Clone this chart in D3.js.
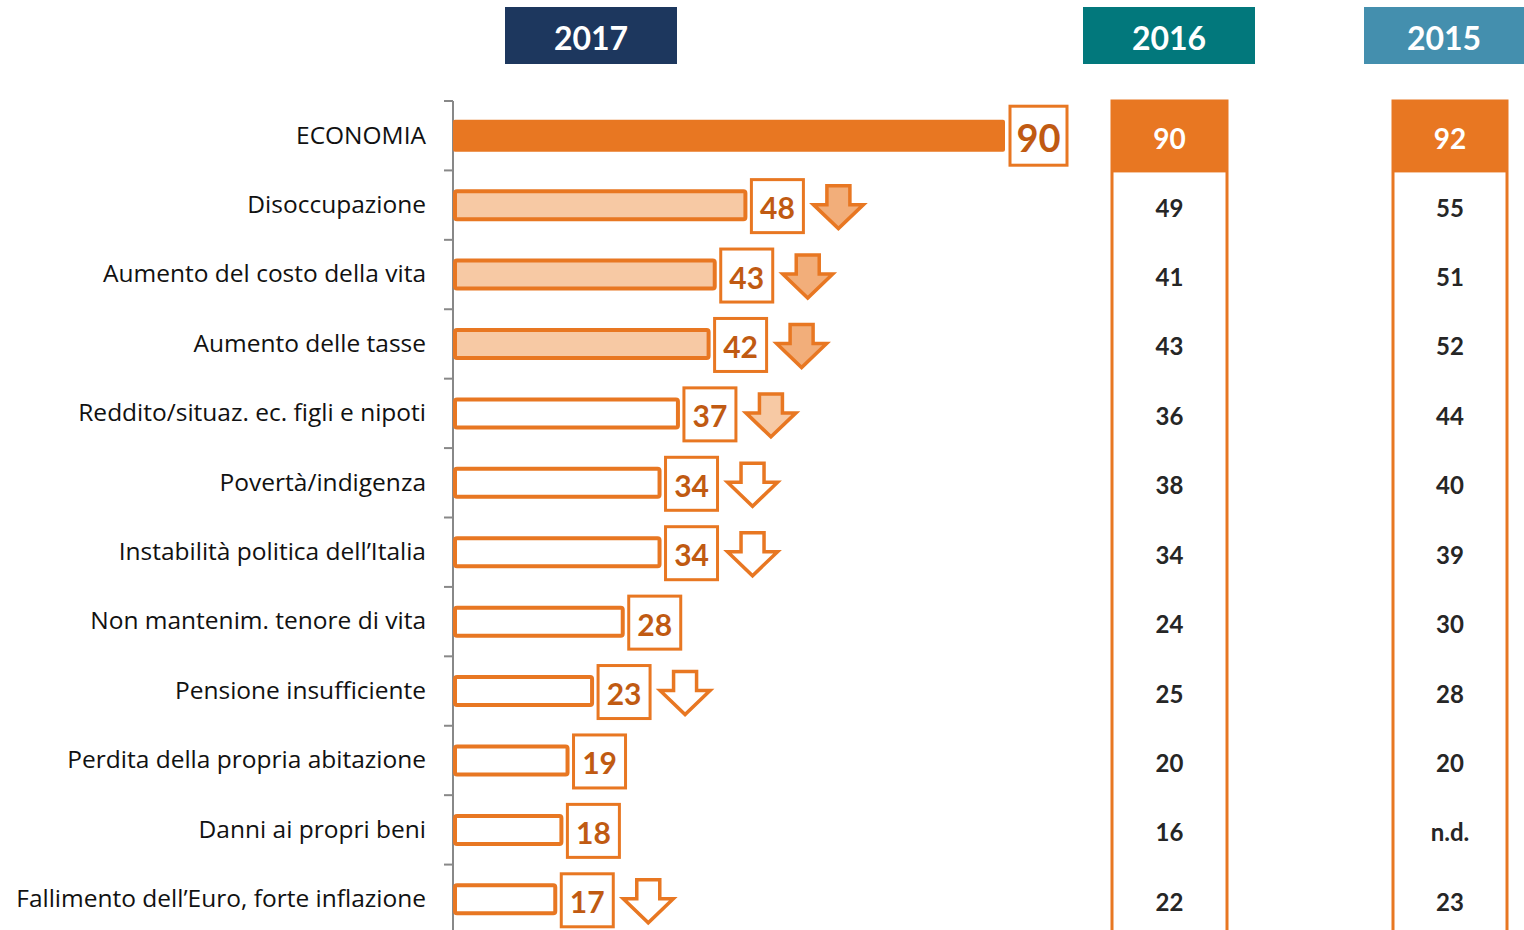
<!DOCTYPE html>
<html><head><meta charset="utf-8">
<script src="https://cdn.jsdelivr.net/npm/d3@7"></script>
<style>
html,body{margin:0;padding:0;background:#fff;overflow:hidden;}
svg{display:block;font-family:Lato,"Open Sans",sans-serif;}
</style></head>
<body>
<svg id="chart" width="1524" height="930"></svg>
<script>
const categories = ["ECONOMIA","Disoccupazione","Aumento del costo della vita","Aumento delle tasse","Reddito/situaz. ec. figli e nipoti","Povertà/indigenza","Instabilità politica dell’Italia","Non mantenim. tenore di vita","Pensione insufficiente","Perdita della propria abitazione","Danni ai propri beni","Fallimento dell’Euro, forte inflazione"];
const values2017 = [90,48,43,42,37,34,34,28,23,19,18,17];
const values2016 = ["90","49","41","43","36","38","34","24","25","20","16","22"];
const values2015 = ["92","55","51","52","44","40","39","30","28","20","n.d.","23"];
const barFill = ["full","light","light","light","none","none","none","none","none","none","none","none"];
const arrowFill = ["", "medium","medium","medium","light","none","none","","none","","","none"];
const yearLabels = ["2017","2016","2015"];

const ORANGE = "#e87722", LIGHT = "#f7c9a4", MEDIUM = "#f2ae7a", DARKTXT = "#c05a12";
const svg = d3.select("#chart");

const x = d3.scaleLinear().domain([0, 90]).range([453, 1005]);
const y = d3.scaleBand().domain(categories).range([101, 934]);
const barH = 32;

// headers
const headers = [
  {t: yearLabels[0], x0: 505, x1: 677, c: "#1d375e"},
  {t: yearLabels[1], x0: 1083, x1: 1255, c: "#02787c"},
  {t: yearLabels[2], x0: 1364, x1: 1524, c: "#448fae"}
];
headers.forEach(h => {
  svg.append("rect").attr("x", h.x0).attr("y", 7).attr("width", h.x1 - h.x0).attr("height", 57).attr("fill", h.c);
  svg.append("text").attr("x", (h.x0 + h.x1) / 2).attr("y", 37).attr("text-anchor", "middle")
    .attr("dominant-baseline", "central").attr("fill", "#fff").attr("font-weight", 700).attr("font-size", 32).text(h.t);
});

// axis
const axisG = svg.append("g").attr("transform", "translate(453,0)")
  .call(d3.axisLeft(y).tickSize(0).tickPadding(27));
axisG.select(".domain").remove();
axisG.selectAll("text").attr("font-size", 24.5).attr("fill", "#111").attr("font-family", "'Open Sans', Lato, sans-serif");
const bounds = categories.map(c => y(c)).concat([y.range()[1]]);
svg.append("line").attr("x1", 453).attr("x2", 453).attr("y1", 101).attr("y2", 934).attr("stroke", "#888").attr("stroke-width", 2);
svg.selectAll(".tk").data(bounds).join("line").attr("class", "tk")
  .attr("x1", 444).attr("x2", 453).attr("y1", d => d).attr("y2", d => d).attr("stroke", "#888").attr("stroke-width", 2);

// bars
categories.forEach((c, i) => {
  const v = values2017[i];
  const cy = y(c) + y.bandwidth() / 2;
  const g = svg.append("g");
  if (barFill[i] === "full") {
    g.append("rect").attr("x", x(0)).attr("y", cy - barH / 2).attr("width", x(v) - x(0)).attr("height", barH)
      .attr("rx", 2).attr("fill", ORANGE);
  } else {
    g.append("rect").attr("x", x(0) + 2).attr("y", cy - barH / 2 + 2).attr("width", x(v) - x(0) - 4).attr("height", barH - 4)
      .attr("rx", 2).attr("fill", barFill[i] === "light" ? LIGHT : "#fff").attr("stroke", ORANGE).attr("stroke-width", 4);
  }
  // value box
  const big = i === 0;
  const bw = big ? 57 : 52, bh = big ? 59 : 53;
  const bx = x(v) + (big ? 5 : 4);
  g.append("rect").attr("x", bx).attr("y", cy - bh / 2 + (big ? 0 : 1)).attr("width", bw).attr("height", bh)
    .attr("fill", "#fff").attr("stroke", ORANGE).attr("stroke-width", 3);
  g.append("text").attr("x", bx + bw / 2).attr("y", cy + (big ? 1 : 2)).attr("text-anchor", "middle").attr("dominant-baseline", "central")
    .attr("font-weight", 700).attr("font-size", big ? 38 : 30).attr("fill", DARKTXT).text(v);
  // arrow
  if (arrowFill[i]) {
    const ax = bx + bw + 10, aw = 50, ah = 43, sw = 23, top = cy - ah / 2 + 2, sh = 19;
    const p = d3.path();
    p.moveTo(ax + (aw - sw) / 2, top);
    p.lineTo(ax + (aw + sw) / 2, top);
    p.lineTo(ax + (aw + sw) / 2, top + sh);
    p.lineTo(ax + aw, top + sh);
    p.lineTo(ax + aw / 2, top + ah);
    p.lineTo(ax, top + sh);
    p.lineTo(ax + (aw - sw) / 2, top + sh);
    p.closePath();
    g.append("path").attr("d", p.toString())
      .attr("fill", arrowFill[i] === "medium" ? MEDIUM : arrowFill[i] === "light" ? LIGHT : "#fff")
      .attr("stroke", ORANGE).attr("stroke-width", 3.5).attr("stroke-linejoin", "miter");
  }
});

// right columns
const cols = [{vals: values2016, x0: 1112, x1: 1227}, {vals: values2015, x0: 1393, x1: 1507}];
cols.forEach(col => {
  const g = svg.append("g");
  g.append("rect").attr("x", col.x0).attr("y", 101).attr("width", col.x1 - col.x0).attr("height", 900)
    .attr("fill", "#fff").attr("stroke", ORANGE).attr("stroke-width", 3);
  g.append("rect").attr("x", col.x0).attr("y", 101).attr("width", col.x1 - col.x0).attr("height", y(categories[1]) + 2 - 101)
    .attr("fill", ORANGE);
  categories.forEach((c, i) => {
    const cy = y(c) + y.bandwidth() / 2;
    g.append("text").attr("x", (col.x0 + col.x1) / 2).attr("y", cy + 2).attr("text-anchor", "middle").attr("dominant-baseline", "central")
      .attr("font-weight", 700).attr("font-size", i === 0 ? 28 : 24).attr("fill", i === 0 ? "#fff" : "#262626").text(col.vals[i]);
  });
});
</script>
</body></html>
